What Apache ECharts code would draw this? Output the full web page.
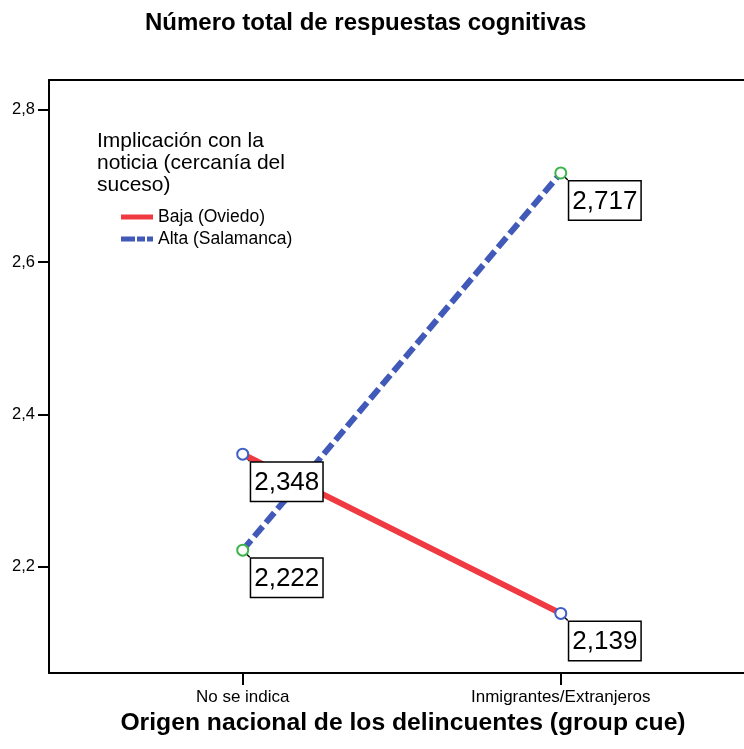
<!DOCTYPE html>
<html>
<head>
<meta charset="utf-8">
<script src="https://cdn.jsdelivr.net/npm/echarts@6/dist/echarts.min.js"></script>
<style>
html,body{margin:0;padding:0;background:#fff;}
#chart{width:744px;height:749px;}
</style>
</head>
<body>
<div id="chart"></div>
<script>
const categories = ['No se indica', 'Inmigrantes/Extranjeros'];
const bajaValues = [2.348, 2.139];
const altaValues = [2.222, 2.717];
const yTicks = [2.2, 2.4, 2.6, 2.8];
const seriesNames = ['Baja (Oviedo)', 'Alta (Salamanca)'];
const chartTitle = 'Número total de respuestas cognitivas';
const legendTitle = 'Implicación con la\nnoticia (cercanía del\nsuceso)';
const xAxisName = 'Origen nacional de los delincuentes (group cue)';

const FONT = '"Liberation Sans", Arial, sans-serif';
const fmt = v => v.toFixed(3).replace('.', ',');

const toPoints = vals => vals.map((v, i) => [i, v]);

const labelCfg = {
  show: true,
  position: [15, 15],
  formatter: p => fmt(p.value[1]),
  fontFamily: FONT,
  fontSize: 26,
  color: '#000',
  backgroundColor: '#fff',
  borderColor: '#000',
  borderWidth: 1.5,
  padding: [5, 3, 3, 3],
  lineHeight: 30
};

const chart = echarts.init(document.getElementById('chart'), null, {renderer: 'canvas'});
chart.setOption({
  animation: false,
  backgroundColor: '#fff',
  title: [
    {
      text: chartTitle,
      left: 140,
      top: 6,
      textStyle: {fontFamily: FONT, fontSize: 24, fontWeight: 'bold', color: '#000'}
    },
    {
      text: legendTitle,
      left: 97,
      top: 130,
      padding: 0,
      textStyle: {fontFamily: FONT, fontSize: 21, fontWeight: 'normal', color: '#000', lineHeight: 22}
    }
  ],
  legend: {
    orient: 'vertical',
    left: 121,
    top: 207,
    padding: 0,
    itemWidth: 32,
    itemHeight: 5,
    itemGap: 2,
    symbolKeepAspect: false,
    textStyle: {fontFamily: FONT, fontSize: 17.5, color: '#000', lineHeight: 20},
    data: [
      {name: seriesNames[0], icon: 'rect', itemStyle: {color: '#ee3a40', borderWidth: 0, borderColor: '#ee3a40'}},
      {name: seriesNames[1], icon: 'path://M0,0h14v5h-14z M16,0h8v5h-8z M26,0h6v5h-6z', itemStyle: {color: '#4159b8', borderWidth: 0, borderColor: '#4159b8'}}
    ]
  },
  grid: {left: 49, top: 80, width: 695, height: 593, show: false},
  xAxis: [
    {
      type: 'value',
      min: -0.609,
      max: 1.576,
      name: xAxisName,
      nameLocation: 'middle',
      nameGap: 38,
      nameTextStyle: {fontFamily: FONT, fontSize: 24.7, fontWeight: 'bold', color: '#000', padding: [0, 0, 0, 13]},
      splitLine: {show: false},
      axisLine: {show: true, onZero: false, lineStyle: {color: '#000', width: 2}},
      axisTick: {show: true, length: 12, lineStyle: {color: '#000', width: 2}, customValues: [0, 1]},
      axisLabel: {
        customValues: [0, 1],
        margin: 16,
        fontFamily: FONT, fontSize: 17, color: '#000',
        formatter: v => categories[Math.round(v)] || ''
      }
    },
    {
      type: 'value',
      position: 'top',
      min: -0.609,
      max: 1.576,
      splitLine: {show: false},
      axisLine: {show: true, onZero: false, lineStyle: {color: '#000', width: 2}},
      axisTick: {show: false},
      axisLabel: {show: false}
    }
  ],
  yAxis: {
    type: 'value',
    min: 2.0608,
    max: 2.839,
    splitLine: {show: false},
    axisLine: {show: true, onZero: false, lineStyle: {color: '#000', width: 2}},
    axisTick: {show: true, length: 11, lineStyle: {color: '#000', width: 2}, customValues: yTicks},
    axisLabel: {
      customValues: yTicks,
      margin: 14,
      fontFamily: FONT, fontSize: 16.5, color: '#000',
      formatter: v => v.toFixed(1).replace('.', ',')
    }
  },
  series: [
    {
      name: seriesNames[0],
      type: 'line',
      data: toPoints(bajaValues),
      symbol: 'emptyCircle',
      symbolSize: 11,
      z: 2,
      lineStyle: {color: '#ee3a40', width: 6, type: 'solid'},
      itemStyle: {color: '#4060c8', borderColor: '#4060c8', borderWidth: 1.3},
      label: labelCfg
    },
    {
      name: seriesNames[1],
      type: 'line',
      data: toPoints(altaValues),
      symbol: 'emptyCircle',
      symbolSize: 11,
      z: 2,
      lineStyle: {color: '#4159b8', width: 6, type: [13, 5]},
      itemStyle: {color: '#3cb54a', borderColor: '#3cb54a', borderWidth: 1.3},
      label: labelCfg
    },
    {
      name: 'leaders',
      type: 'custom',
      z: 2,
      silent: true,
      data: toPoints(bajaValues).concat(toPoints(altaValues)),
      renderItem: (params, api) => {
        const c = api.coord([api.value(0), api.value(1)]);
        return {
          type: 'line',
          shape: {x1: c[0], y1: c[1], x2: c[0] + 7, y2: c[1] + 7},
          style: {stroke: '#000', lineWidth: 1.5}
        };
      }
    }
  ]
});
</script>
</body>
</html>
